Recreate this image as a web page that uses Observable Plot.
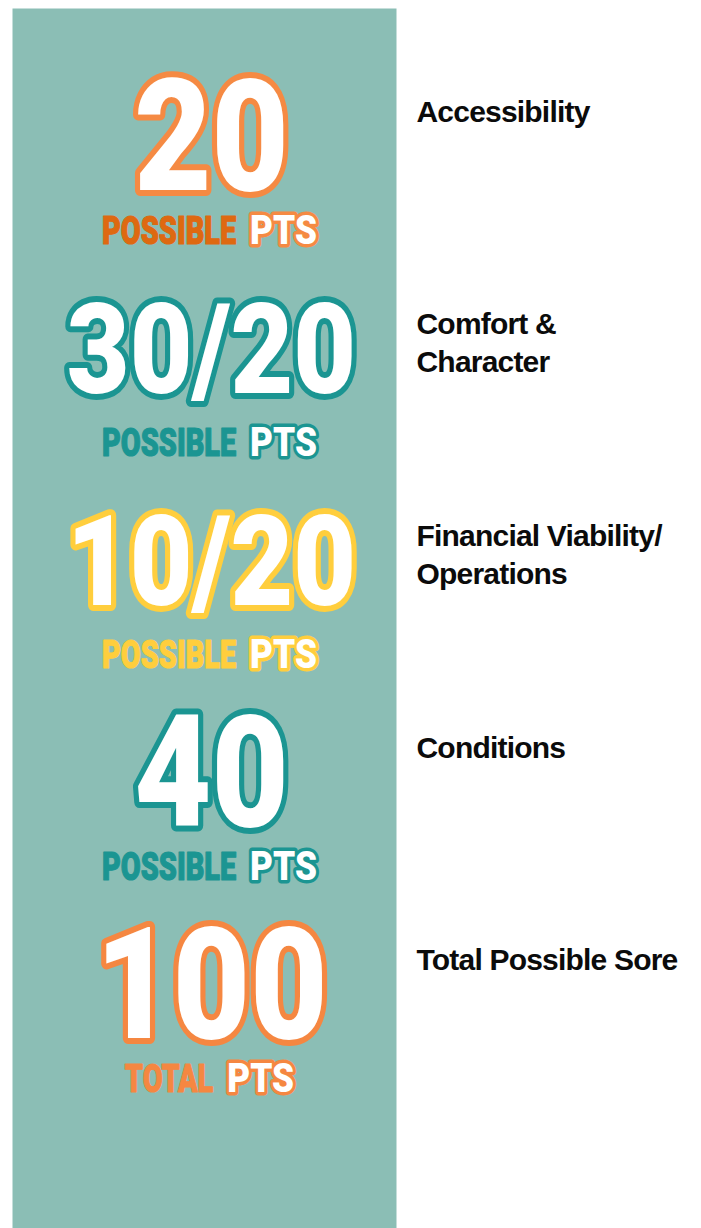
<!DOCTYPE html>
<html>
<head>
<meta charset="utf-8">
<script src="https://cdn.jsdelivr.net/npm/d3@7"></script>
<script src="https://cdn.jsdelivr.net/npm/@observablehq/plot@0.6"></script>
<style>
  html, body { margin: 0; padding: 0; background: #ffffff; }
  #chart { width: 701px; height: 1228px; overflow: hidden; }
</style>
</head>
<body>
<div id="chart"></div>
<script>
// ---- data ----
const categories = ["Accessibility", "Comfort & Character", "Financial Viability/Operations", "Conditions", "Total Possible Sore"];
const labels = ["Accessibility", "Comfort &\nCharacter", "Financial Viability/\nOperations", "Conditions", "Total Possible Sore"];
const scores = ["20", "30/20", "10/20", "40", "100"];
const units = ["POSSIBLE", "POSSIBLE", "POSSIBLE", "POSSIBLE", "TOTAL"];
const suffix = ["PTS", "PTS", "PTS", "PTS", "PTS"];

// ---- styles ----
const outlinePalette = ["#F58A43", "#1B9592", "#FFCE3D", "#1B9592", "#F58741"];
const wordPalette = ["#DE6911", "#1B9592", "#FFCE3D", "#1B9592", "#F58741"];
const panelColor = "#8BBEB5";
const displayFont = "'Roboto', 'Liberation Sans', sans-serif";
const labelFont = "'Liberation Sans', 'Helvetica', 'Arial', sans-serif";
const condenseScore = 0.86, condenseUnit = 0.74, condenseSuffix = 0.88, gap = 14;

const rows = categories.map((c, i) => ({
  category: c, label: labels[i], score: scores[i], unit: units[i], suffix: suffix[i],
  outline: outlinePalette[i], word: wordPalette[i]
}));

const chart = Plot.plot({
  width: 701,
  height: 1228,
  marginLeft: 12,
  marginRight: 305,
  marginTop: 8,
  marginBottom: 0,
  x: {domain: [0, 1], axis: null},
  y: {type: "point", domain: categories, range: [135, 983], padding: 0, axis: null},
  color: {type: "identity"},
  marks: [
    Plot.frame({fill: panelColor, stroke: "none"}),
    // big score numbers (fractions set smaller)
    Plot.text(rows, {
      x: () => 0.5, y: "category", text: "score", dx: 7, dy: 5,
      fill: "white", stroke: "outline", strokeWidth: 12, strokeLinejoin: "round",
      paintOrder: "stroke", fontFamily: displayFont, fontWeight: 900,
      fontSize: d => d.score.includes("/") ? 126 : 155,
      textAnchor: "middle", lineAnchor: "middle", ariaDescription: "score"
    }),
    // unit word (POSSIBLE / TOTAL)
    Plot.text(rows, {
      x: () => 0.5, y: "category", text: "unit", dx: 5, dy: 96,
      fill: "word", stroke: "word", strokeWidth: 1.2, strokeLinejoin: "round",
      fontFamily: displayFont, fontWeight: 900, fontSize: 39,
      textAnchor: "end", lineAnchor: "middle", ariaDescription: "unit"
    }),
    // PTS
    Plot.text(rows, {
      x: () => 0.5, y: "category", text: "suffix", dx: 5, dy: 96,
      fill: "white", stroke: "outline", strokeWidth: 7, strokeLinejoin: "round",
      paintOrder: "stroke", fontFamily: displayFont, fontWeight: 900, fontSize: 40,
      textAnchor: "start", lineAnchor: "middle", ariaDescription: "suffix"
    }),
    // category labels
    Plot.text(rows, {
      x: () => 1, y: "category", text: "label", dx: 20, dy: -41,
      fill: "#0b0b0b", fontFamily: labelFont, fontWeight: "bold", fontSize: 30,
      lineHeight: 1.27, textAnchor: "start", lineAnchor: "top", ariaDescription: "label"
    })
  ]
});

document.getElementById("chart").appendChild(chart);

// typographic adjustments: condense the display face and centre each "UNIT PTS" group
const svg = d3.select(chart);
svg.selectAll('g[aria-description="label"] text').style("letter-spacing", "-0.8px");

function condense(node, factor) {
  const w = node.getComputedTextLength() * factor;
  node.setAttribute("textLength", w);
  node.setAttribute("lengthAdjust", "spacingAndGlyphs");
  return w;
}
svg.selectAll('g[aria-description="score"] text').each(function() { condense(this, condenseScore); });

const unitNodes = svg.selectAll('g[aria-description="unit"] text').nodes();
const suffixNodes = svg.selectAll('g[aria-description="suffix"] text').nodes();
unitNodes.forEach((u, k) => {
  const p = suffixNodes[k];
  const wu = condense(u, condenseUnit);
  const wp = condense(p, condenseSuffix);
  const total = wu + gap + wp;
  const unitEnd = -total / 2 + wu;
  u.setAttribute("dx", unitEnd);
  p.setAttribute("dx", unitEnd + gap);
});
</script>
</body>
</html>
